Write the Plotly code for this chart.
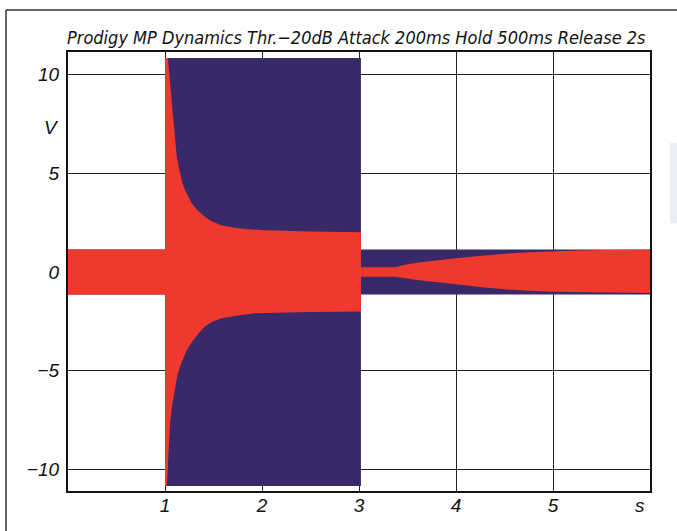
import plotly.graph_objects as go

# Input burst envelope (blue): +/- amplitude over time, in volts
in_t = [0.0, 1.0, 1.0, 3.02, 3.02, 6.0]
in_amp = [1.14, 1.14, 10.85, 10.85, 1.14, 1.14]

# Output envelope (red), upper edge: time (s) and volts
top_t = [0.0, 1.0, 1.0, 1.03, 1.05, 1.07, 1.085, 1.10, 1.12, 1.14, 1.155, 1.18, 1.21, 1.24,
         1.28, 1.33, 1.41, 1.49, 1.58, 1.7, 1.85, 2.03, 2.5, 3.02,
         3.02, 3.37, 3.42, 3.5, 3.6, 3.7, 3.8, 3.9, 4.0, 4.15, 4.3, 4.5, 4.75, 5.0, 5.25, 5.5, 6.0]
top_v = [1.14, 1.14, 10.85, 10.85, 9.7, 8.6, 7.7, 6.7, 5.9, 5.35, 5.0, 4.5, 4.1, 3.8,
         3.45, 3.15, 2.8, 2.55, 2.37, 2.25, 2.17, 2.12, 2.05, 2.02,
         0.24, 0.24, 0.3, 0.39, 0.47, 0.54, 0.6, 0.65, 0.7, 0.77, 0.84, 0.93, 1.0, 1.06, 1.09, 1.11, 1.13]

# Output envelope (red), lower edge: time (s) and volts
bot_t = [0.0, 1.0, 1.0, 1.02, 1.035, 1.052, 1.075, 1.10, 1.13, 1.17, 1.22, 1.27, 1.34, 1.41,
         1.49, 1.58, 1.75, 1.93, 2.5, 3.02,
         3.02, 3.37, 3.42, 3.5, 3.6, 3.8, 4.0, 4.15, 4.3, 4.5, 4.75, 5.0, 5.5, 6.0]
bot_v = [-1.14, -1.14, -10.85, -10.84, -9.2, -7.64, -6.7, -5.96, -5.2, -4.6, -4.0, -3.6, -3.15, -2.76,
         -2.52, -2.34, -2.2, -2.09, -2.03, -2.0,
         -0.24, -0.24, -0.27, -0.33, -0.4, -0.52, -0.64, -0.7, -0.78, -0.88, -0.95, -1.0, -1.04, -1.06]

x_ticks = [1, 2, 3, 4, 5]
y_ticks = [-10, -5, 0, 5, 10]
y_tick_text = ["\u221210", "\u22125", "0", "5", "10"]

title_text = "Prodigy MP Dynamics Thr.\u221220dB Attack 200ms Hold 500ms Release 2s"

BLUE = "#3a2968"
RED = "#ee392c"

fig = go.Figure()

fig.add_trace(go.Scatter(
    x=in_t + in_t[::-1],
    y=in_amp + [-a for a in in_amp[::-1]],
    fill="toself", fillcolor=BLUE, mode="lines", line=dict(width=0, color=BLUE),
    hoverinfo="skip", showlegend=False,
))
fig.add_trace(go.Scatter(
    x=top_t + bot_t[::-1],
    y=top_v + bot_v[::-1],
    fill="toself", fillcolor=RED, mode="lines", line=dict(width=0, color=RED),
    hoverinfo="skip", showlegend=False,
))

tick_font = dict(family="Liberation Sans, Arial, sans-serif", size=19, color="#111", style="italic")

fig.update_layout(
    width=677, height=531,
    margin=dict(l=68, r=27, t=52, b=40),
    paper_bgcolor="white", plot_bgcolor="white",
    xaxis=dict(range=[0, 6], tickvals=x_ticks, ticktext=[str(v) for v in x_ticks],
               showgrid=True, gridcolor="#222", gridwidth=1.2, zeroline=False,
               showline=True, mirror=True, linecolor="#111", linewidth=2,
               ticks="", tickfont=tick_font, ticklabelstandoff=-4),
    yaxis=dict(range=[-11.1, 11.15], tickvals=y_ticks, ticktext=y_tick_text,
               showgrid=True, gridcolor="#222", gridwidth=1.2, zeroline=False,
               showline=True, mirror=True, linecolor="#111", linewidth=2,
               ticks="", tickfont=tick_font, ticklabelstandoff=3),
)

fig.add_annotation(text=title_text, xref="paper", yref="paper", x=0.496, y=1.034,
                   showarrow=False, xanchor="center", yanchor="middle",
                   font=dict(family="Liberation Sans Narrow, DejaVu Sans Condensed, sans-serif",
                             size=18, color="#111", style="italic"))
fig.add_annotation(text="V", xref="paper", yref="paper", x=-0.0275, y=0.829,
                   showarrow=False, xanchor="center", yanchor="middle", font=tick_font)
fig.add_annotation(text="s", xref="paper", yref="paper", x=0.983, y=-0.032,
                   showarrow=False, xanchor="center", yanchor="middle", font=tick_font)

# page frame lines around the figure
fig.add_shape(type="line", xref="paper", yref="paper", x0=-0.1065, x1=-0.1065, y0=-0.1, y1=1.0957,
              line=dict(color="#333", width=1.5))
fig.add_shape(type="line", xref="paper", yref="paper", x0=-0.1065, x1=1.06, y0=1.0957, y1=1.0957,
              line=dict(color="#333", width=1.5))
fig.add_shape(type="rect", xref="paper", yref="paper", x0=1.034, x1=1.05, y0=0.61, y1=0.793,
              line=dict(width=0), fillcolor="rgba(205,218,228,0.45)")

fig.write_html("out.html")
